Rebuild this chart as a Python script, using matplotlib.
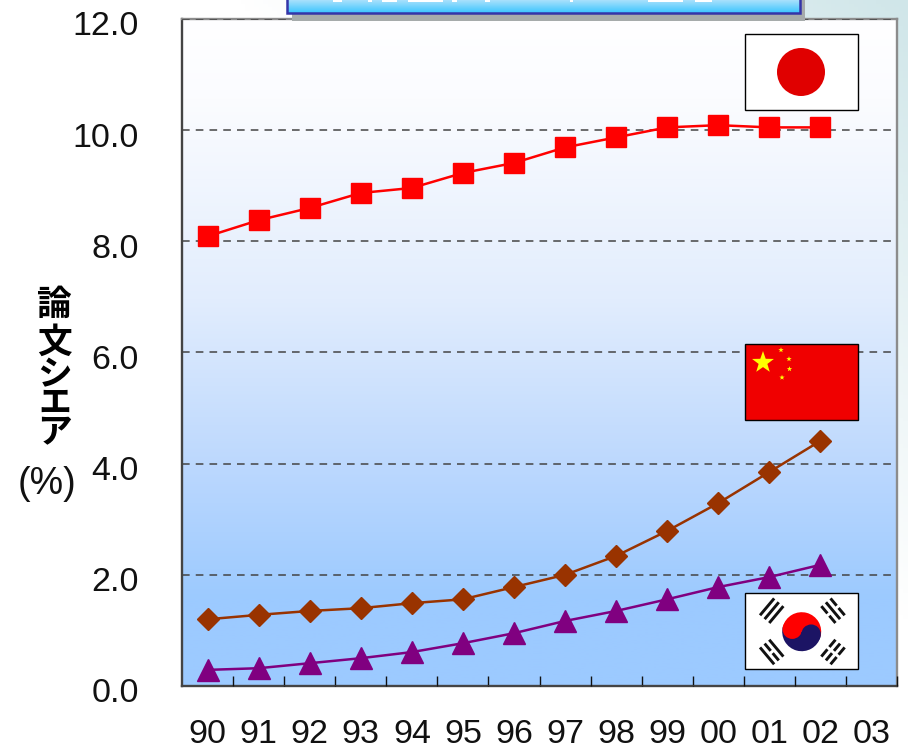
import matplotlib
matplotlib.use("Agg")
import matplotlib.pyplot as plt
from matplotlib.colors import LinearSegmentedColormap
from matplotlib.patches import Circle, Rectangle, Wedge
from matplotlib.transforms import ScaledTranslation
import numpy as np

plt.rcParams['font.family'] = ['Liberation Sans', 'Noto Sans CJK JP', 'DejaVu Sans']

years = ["90", "91", "92", "93", "94", "95", "96", "97", "98", "99", "00", "01", "02", "03"]
japan = [8.09, 8.38, 8.60, 8.87, 8.96, 9.23, 9.41, 9.69, 9.87, 10.05, 10.09, 10.05, 10.05]
china = [1.20, 1.28, 1.35, 1.40, 1.49, 1.56, 1.78, 2.00, 2.34, 2.79, 3.29, 3.85, 4.41]
korea = [0.29, 0.32, 0.41, 0.50, 0.61, 0.77, 0.95, 1.17, 1.35, 1.56, 1.78, 1.96, 2.18]
y_ticks = [0, 2, 4, 6, 8, 10, 12]

W, H = 908, 746
fig = plt.figure(figsize=(W / 100, H / 100), dpi=100)

# page background, white fading to pale teal at the top right
bg = fig.add_axes([0, 0, 1, 1], zorder=0)
bg.axis("off")
gx, gy = np.meshgrid(np.linspace(0, 1, 200), np.linspace(1, 0, 200))
page = np.clip(1.35 * gx + 1.2 * gy - 1.55, 0, 1)
page_cmap = LinearSegmentedColormap.from_list("page", ["#ffffff", "#d0e6e9"])
bg.imshow(page, cmap=page_cmap, vmin=0, vmax=1, aspect="auto", extent=[0, 1, 0, 1])

ax = fig.add_axes([182 / W, 1 - 686 / H, 715 / W, 667 / H], zorder=1)
plot_cmap = LinearSegmentedColormap.from_list(
    "plot", [(0, "#ffffff"), (0.12, "#fbfcff"), (0.42, "#e2edfd"), (0.67, "#bcd8fe"),
             (0.87, "#9ccaff"), (1, "#9ccaff")])
ax.imshow(np.linspace(0, 1, 256).reshape(-1, 1), cmap=plot_cmap, aspect="auto",
          extent=[-0.5, 13.5, 0, 12], zorder=0)

x = np.arange(len(japan))
ax.plot(x, japan, color="#ff0000", lw=1.8, marker="s", ms=14, zorder=4, clip_on=False)
ax.plot(x, china, color="#993300", lw=1.8, marker="D", ms=11.5, zorder=4, clip_on=False)
ax.plot(x, korea, color="#800080", lw=1.8, marker="^", ms=16, zorder=4, clip_on=False)

ax.set_xlim(-0.5, 13.5)
ax.set_ylim(0, 12)
ax.set_yticks(y_ticks)
ax.set_yticklabels([f"{v:.1f}" for v in y_ticks], fontsize=24.5, color="#111111")
ax.set_xticks(np.arange(len(years)))
ax.set_xticklabels(years, fontsize=24.5, color="#111111")
ax.tick_params(axis="y", length=0, pad=31)
ax.tick_params(axis="x", length=0, pad=24)
# the y labels sit a little below their gridlines
shift = ScaledTranslation(0, -4.5 / 100, fig.dpi_scale_trans)
for lab in ax.get_yticklabels():
    lab.set_transform(lab.get_transform() + shift)
ax.set_xticks(np.arange(len(years)) + 0.5, minor=True)
ax.tick_params(axis="x", which="minor", direction="in", length=7.2, width=1, color="#111111")
ax.grid(axis="y", color="#444444", ls=(0, (5, 4)), lw=1.1, zorder=1)
ax.set_axisbelow(False)
for s in ax.spines.values():
    s.set_color("#8c8c8c")
    s.set_linewidth(1.7)
ax.spines["bottom"].set_color("#444444")
ax.spines["left"].set_color("#444444")

# overlay in pixel coordinates for the flags and the title box
ov = fig.add_axes([0, 0, 1, 1], zorder=3)
ov.axis("off")


def flag_box(y0, color):
    ov.add_patch(Rectangle((745, y0), 113, 76, fc=color, ec="black", lw=1.0, zorder=5))


def star(cx, cy, r, color="#ffff00"):
    ang = np.deg2rad(np.arange(0, 360, 36) - 90)
    rad = np.where(np.arange(10) % 2 == 0, r, r * 0.4)
    ov.fill(cx + rad * np.cos(ang), cy + rad * np.sin(ang), color=color, lw=0, zorder=6)


def trigram(cx, cy, angle, breaks):
    # three bars, breaks says which are split in the middle
    d = np.array([np.cos(angle), np.sin(angle)])
    n = np.array([-d[1], d[0]])
    for off, broken in zip((-6, 0, 6), breaks):
        c = np.array([cx, cy]) + n * off
        spans = [(-11, -1.5), (1.5, 11)] if broken else [(-11, 11)]
        for a, b in spans:
            p, q = c + d * a, c + d * b
            ov.plot([p[0], q[0]], [p[1], q[1]], color="#111111", lw=2.1,
                    solid_capstyle="butt", zorder=6)


# title box, mostly cut off by the top of the picture
ov.add_patch(Rectangle((292, -5), 513, 26, fc="#a6abab", ec="none", zorder=2))
title_cmap = LinearSegmentedColormap.from_list("title", ["#a8e0fc", "#3cc6ff"])
ov.imshow(np.linspace(0, 1, 32).reshape(-1, 1), cmap=title_cmap, aspect="auto",
          extent=[287, 800, 13, 0], zorder=3)
ov.add_patch(Rectangle((287, -5), 513, 18, fc="none", ec="#3434a8", lw=1.8, zorder=4))
# only the feet of the title's white letters show
for x0, x1 in [(333, 342), (368, 372), (382, 397), (408, 443), (452, 457),
               (485, 490), (570, 573), (648, 683), (695, 712)]:
    ov.add_patch(Rectangle((x0, 0), x1 - x0, 1.5, fc="white", ec="none", zorder=4))

# japan
flag_box(34, "white")
ov.add_patch(Circle((801, 72), 24, fc="#e00000", ec="none", zorder=6))

# china
flag_box(344, "#f00000")
star(763, 362.5, 11.5)
for sx, sy in [(781, 350), (789, 359), (789.5, 369), (782, 377.5)]:
    star(sx, sy, 2.8)

# korea
flag_box(593, "white")
cx, cy, r = 801.7, 631.7, 19.5
tilt = 15
ov.add_patch(Wedge((cx, cy), r, 180 + tilt, 360 + tilt, fc="#ff0000", ec="none", zorder=6))
ov.add_patch(Wedge((cx, cy), r, tilt, 180 + tilt, fc="#1c1464", ec="none", zorder=6))
ca, sa = np.cos(np.deg2rad(tilt)), np.sin(np.deg2rad(tilt))
ov.add_patch(Circle((cx - r / 2 * ca, cy - r / 2 * sa), r / 2, fc="#ff0000", ec="none", zorder=7))
ov.add_patch(Circle((cx + r / 2 * ca, cy + r / 2 * sa), r / 2, fc="#1c1464", ec="none", zorder=7))
trigram(771.7, 610.7, np.deg2rad(-50), (False, False, False))
trigram(833, 610.7, np.deg2rad(50), (True, False, True))
trigram(771.7, 652, np.deg2rad(50), (False, True, False))
trigram(833, 652, np.deg2rad(-50), (True, True, True))

ov.set_xlim(0, W)
ov.set_ylim(H, 0)

# y axis title, stacked by hand
jp = ["Noto Sans CJK JP"]
ov.text(54.5, 304, "論", fontsize=25, fontweight="bold", ha="center", va="center", family=jp, zorder=8)
ov.text(54.5, 342, "文", fontsize=25, fontweight="bold", ha="center", va="center", family=jp, zorder=8)
ov.text(54.5, 375, "シ", fontsize=25, fontweight="bold", ha="center", va="center", family=jp, zorder=8)
ov.text(54.5, 399, "ェ", fontsize=28, fontweight="bold", ha="center", va="center", family=jp, zorder=8)
ov.text(54.5, 433, "ア", fontsize=25, fontweight="bold", ha="center", va="center", family=jp, zorder=8)
ov.text(47, 484, "(%)", fontsize=27, ha="center", va="center", color="#111111", zorder=8)

fig.savefig("out.png", dpi=100)
